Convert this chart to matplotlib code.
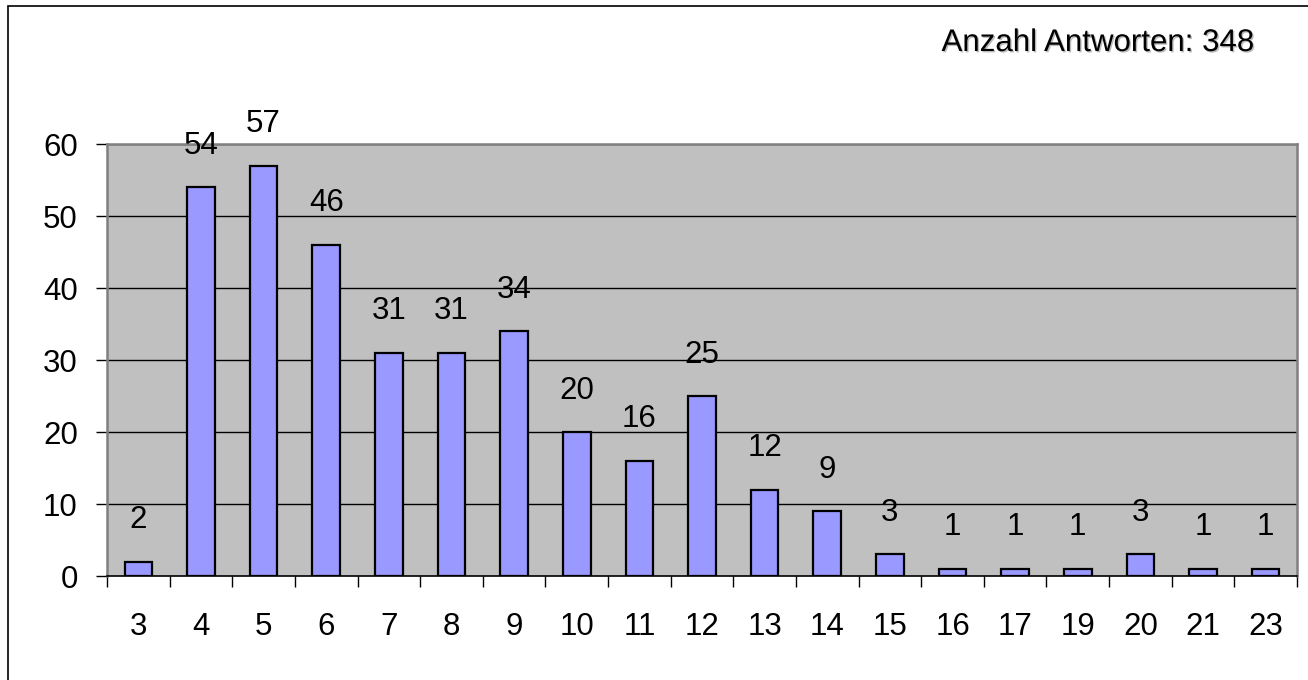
import matplotlib
matplotlib.use("Agg")
import matplotlib.pyplot as plt
import matplotlib.patheffects as pe
from matplotlib.patches import Rectangle

categories = ["3", "4", "5", "6", "7", "8", "9", "10", "11", "12", "13", "14",
              "15", "16", "17", "19", "20", "21", "23"]
values = [2, 54, 57, 46, 31, 31, 34, 20, 16, 25, 12, 9, 3, 1, 1, 1, 3, 1, 1]
y_ticks = [0, 10, 20, 30, 40, 50, 60]
info_text = "Anzahl Antworten: 348"

plt.rcParams['font.family'] = ['Liberation Sans', 'DejaVu Sans']
FS = 22.5

fig = plt.figure(figsize=(13.08, 6.8), dpi=100)
W, H = 1308, 680
# figure border (only top and left visible)
fig.patches.append(Rectangle((8 / W, -0.1), 1.2, (680 - 6) / H + 0.1,
                             transform=fig.transFigure, fill=False,
                             edgecolor='black', linewidth=1.2))

ax = fig.add_axes([107 / W, (680 - 576) / H, (1297 - 107) / W, (576 - 144) / H])
ax.set_facecolor('#C0C0C0')

x = list(range(len(categories)))
ax.bar(x, values, width=0.44, color='#9999FF', edgecolor='black', linewidth=1.6, zorder=3)
for xi, v in zip(x, values):
    ax.annotate(str(v), (xi, v), xytext=(0, 19), textcoords='offset points',
                ha='center', va='bottom', fontsize=FS, zorder=4)

ax.set_xlim(-0.5, len(categories) - 0.5)
ax.set_ylim(0, 60)
ax.set_yticks(y_ticks)
ax.set_yticklabels([str(t) for t in y_ticks])
ax.set_xticks(x)
ax.set_xticklabels(categories)
ax.set_xticks([i - 0.5 for i in range(len(categories) + 1)], minor=True)
ax.tick_params(axis='x', which='major', length=0, pad=26, labelsize=FS)
ax.tick_params(axis='x', which='minor', length=8, width=1.0, direction='out', color='black')
ax.tick_params(axis='y', which='major', length=8, width=1.0, pad=13, labelsize=FS, color='black')

for y in y_ticks[1:]:
    ax.axhline(y, color='black', linewidth=1.0, zorder=1)

for s in ['left', 'top', 'right']:
    ax.spines[s].set_color('#808080')
    ax.spines[s].set_linewidth(1.8)
ax.spines['bottom'].set_color('black')
ax.spines['bottom'].set_linewidth(1.2)
ax.spines['bottom'].set_zorder(5)

fig.text(1254 / W, 1 - 51 / H, info_text, ha='right', va='baseline', fontsize=FS,
         path_effects=[pe.SimplePatchShadow(offset=(1.0, -1.0), shadow_rgbFace='#909090', alpha=0.6),
                       pe.Normal()])

fig.savefig("out.png", dpi=100)
